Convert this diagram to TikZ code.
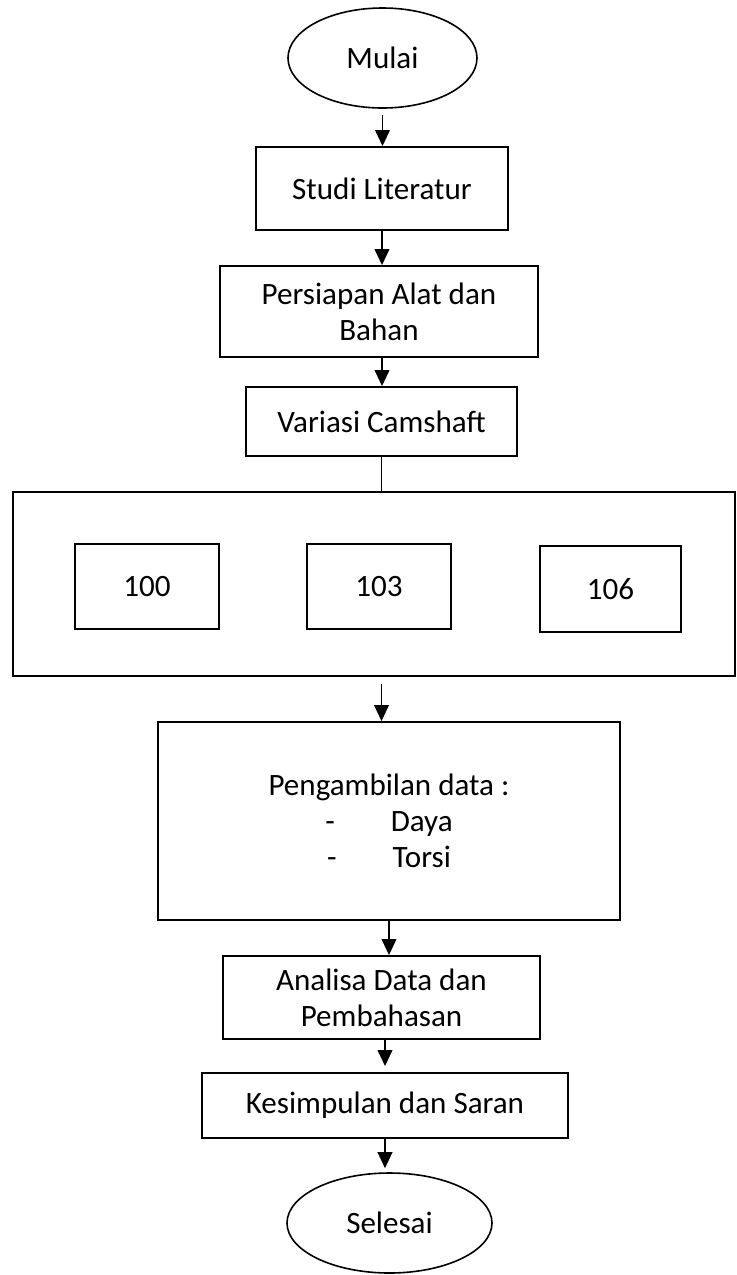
\documentclass[tikz,border=0pt]{standalone}
\usepackage{fontspec}
\setmainfont{Carlito}
\usetikzlibrary{shapes.geometric,arrows.meta}

\begin{document}
\begin{tikzpicture}[x=0.75pt,y=-0.75pt,
		font=\fontsize{23.3}{27}\selectfont,
		box/.style={draw, rectangle, line width=1.4pt, inner sep=0pt, align=center},
		term/.style={draw, ellipse, line width=1.2pt, inner sep=0pt},
		flow/.style={line width=1.2pt, -{Triangle[length=12pt,width=11pt]}}]
		\useasboundingbox (0,0) rectangle (737,1275);
		\node[term, minimum width=141.75pt, minimum height=75pt] (mulai) at (382.5,58) {Mulai};
		\node[box, minimum width=189pt, minimum height=62.25pt] (studi) at (382,188.5) {Studi Literatur};
		\node[box, minimum width=238.5pt, minimum height=68.25pt] (persiapan) at (379,311.5) {Persiapan Alat dan\\Bahan};
		\node[box, minimum width=203.25pt, minimum height=51.75pt] (variasi) at (381.5,421.5) {Variasi Camshaft};
		\node[box, minimum width=541.5pt, minimum height=138pt] (camshaft) at (374,584) {};
		\node[box, minimum width=108pt, minimum height=63.75pt] (v100) at (147,586.5) {100};
		\node[box, minimum width=108pt, minimum height=63.75pt] (v103) at (379,586.5) {103};
		\node[box, minimum width=105.75pt, minimum height=64.5pt] (v106) at (610.5,589) {106};
		\node[box, minimum width=346.5pt, minimum height=148.5pt] (pengambilan) at (389,821) {Pengambilan data :\\-\hspace{42pt}Daya\\-\hspace{42pt}Torsi};
		\node[box, minimum width=237.75pt, minimum height=62.25pt] (analisa) at (381.5,997.5) {Analisa Data dan\\Pembahasan};
		\node[box, minimum width=274.5pt, minimum height=48.75pt] (kesimpulan) at (385,1105.5) {Kesimpulan dan Saran};
		\node[term, minimum width=153.75pt, minimum height=75pt] (selesai) at (389.5,1223) {Selesai};
		% alur
		\draw[flow, shorten <=5pt] (mulai.south) -- (mulai.south |- studi.north);
		\draw[flow] (studi.south) -- (studi.south |- persiapan.north);
		\draw[flow] (persiapan.south -| studi) -- (studi |- variasi.north);
		\draw[line width=1.2pt] (variasi.south) -- (variasi.south |- camshaft.north);
		\draw[flow, shorten <=5pt] (camshaft.south -| variasi) -- (variasi |- pengambilan.north);
		\draw[flow] (pengambilan.south) -- (pengambilan.south |- analisa.north);
		\draw[flow, shorten >=4.5pt] (analisa.south -| kesimpulan) -- (kesimpulan.north);
		\draw[flow, shorten >=3pt] (kesimpulan.south) -- (kesimpulan.south |- selesai.north);
	\end{tikzpicture}
\end{document}
